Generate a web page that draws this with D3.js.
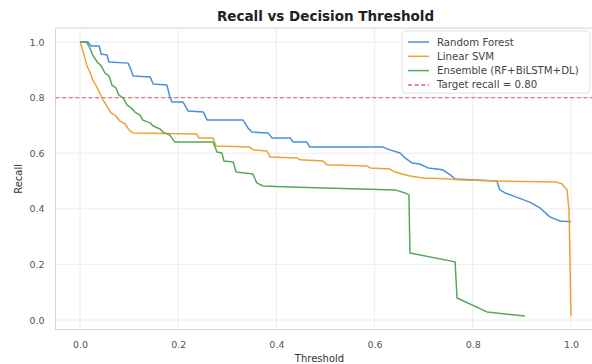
<!DOCTYPE html>
<html>
<head>
<meta charset="utf-8">
<script src="https://cdn.jsdelivr.net/npm/d3@7"></script>
<style>
  body { margin: 0; background: #fff; }
  svg { display: block; font-family: "DejaVu Sans", sans-serif; }
</style>
</head>
<body>
<svg id="chart" width="592" height="364"></svg>
<script>
// Recall as a function of the decision threshold, one curve per model
const thresholdsRF = [0.000, 0.016, 0.022, 0.039, 0.043, 0.055, 0.059, 0.098, 0.104, 0.108, 0.143, 0.149, 0.177, 0.183, 0.187, 0.210, 0.220, 0.251, 0.259, 0.332, 0.342, 0.350, 0.383, 0.391, 0.428, 0.434, 0.462, 0.468, 0.617, 0.631, 0.652, 0.662, 0.676, 0.692, 0.709, 0.739, 0.754, 0.764, 0.849, 0.855, 0.866, 0.916, 0.937, 0.957, 0.978, 1.000];
const recallRF     = [1.000, 1.000, 0.986, 0.986, 0.957, 0.953, 0.928, 0.924, 0.899, 0.878, 0.874, 0.849, 0.845, 0.802, 0.784, 0.784, 0.752, 0.748, 0.719, 0.719, 0.691, 0.676, 0.673, 0.655, 0.655, 0.640, 0.640, 0.622, 0.622, 0.612, 0.601, 0.583, 0.565, 0.561, 0.547, 0.540, 0.522, 0.507, 0.500, 0.468, 0.457, 0.424, 0.403, 0.371, 0.356, 0.353];

const thresholdsSVM = [0.000, 0.004, 0.010, 0.014, 0.020, 0.026, 0.033, 0.041, 0.047, 0.057, 0.063, 0.073, 0.081, 0.092, 0.100, 0.108, 0.238, 0.242, 0.271, 0.277, 0.346, 0.352, 0.381, 0.387, 0.442, 0.448, 0.495, 0.503, 0.585, 0.591, 0.631, 0.642, 0.656, 0.672, 0.699, 0.754, 0.768, 0.849, 0.971, 0.982, 0.992, 0.996, 0.998, 1.000];
const recallSVM     = [1.000, 0.978, 0.942, 0.914, 0.892, 0.863, 0.842, 0.813, 0.791, 0.763, 0.745, 0.734, 0.716, 0.705, 0.683, 0.673, 0.669, 0.655, 0.655, 0.626, 0.622, 0.612, 0.608, 0.586, 0.583, 0.576, 0.572, 0.558, 0.554, 0.547, 0.543, 0.532, 0.525, 0.518, 0.511, 0.507, 0.504, 0.500, 0.496, 0.489, 0.468, 0.396, 0.216, 0.014];

const thresholdsEns = [0.000, 0.012, 0.018, 0.026, 0.035, 0.043, 0.051, 0.059, 0.065, 0.073, 0.079, 0.088, 0.096, 0.104, 0.112, 0.122, 0.128, 0.143, 0.149, 0.163, 0.169, 0.183, 0.193, 0.271, 0.279, 0.289, 0.293, 0.312, 0.318, 0.352, 0.360, 0.373, 0.428, 0.642, 0.662, 0.670, 0.672, 0.764, 0.768, 0.829, 0.906];
const recallEns     = [1.000, 1.000, 0.986, 0.953, 0.928, 0.914, 0.888, 0.878, 0.845, 0.835, 0.809, 0.799, 0.773, 0.763, 0.748, 0.737, 0.719, 0.709, 0.698, 0.687, 0.676, 0.665, 0.640, 0.640, 0.604, 0.601, 0.572, 0.568, 0.532, 0.525, 0.493, 0.482, 0.478, 0.468, 0.457, 0.450, 0.241, 0.209, 0.079, 0.029, 0.014];

const targetRecall = 0.80;

const seriesNames = ["Random Forest", "Linear SVM", "Ensemble (RF+BiLSTM+DL)"];
const seriesColors = ["#4a8fd8", "#e9a533", "#55a85a"];
const targetColor = "#e26464";
const xTicks = [0.0, 0.2, 0.4, 0.6, 0.8, 1.0];
const yTicks = [0.0, 0.2, 0.4, 0.6, 0.8, 1.0];

const series = [
  { name: seriesNames[0], color: seriesColors[0], pts: d3.zip(thresholdsRF, recallRF) },
  { name: seriesNames[1], color: seriesColors[1], pts: d3.zip(thresholdsSVM, recallSVM) },
  { name: seriesNames[2], color: seriesColors[2], pts: d3.zip(thresholdsEns, recallEns) }
];

const svg = d3.select("#chart");
const plot = { left: 55.5, right: 595.5, top: 28.1, bottom: 329.7 };

const x = d3.scaleLinear().domain([-0.05, 1.05]).range([plot.left, plot.right]);
const y = d3.scaleLinear().domain([-0.035, 1.05]).range([plot.bottom, plot.top]);

svg.append("defs").append("clipPath").attr("id", "plot-clip")
  .append("rect")
  .attr("x", plot.left).attr("y", plot.top)
  .attr("width", plot.right - plot.left).attr("height", plot.bottom - plot.top);

// grid
const grid = svg.append("g").attr("stroke", "#ebebeb").attr("stroke-width", 0.9);
grid.selectAll("line.vx").data(xTicks).join("line")
  .attr("x1", d => x(d)).attr("x2", d => x(d))
  .attr("y1", plot.top).attr("y2", plot.bottom);
grid.selectAll("line.hy").data(yTicks).join("line")
  .attr("x1", plot.left).attr("x2", plot.right)
  .attr("y1", d => y(d)).attr("y2", d => y(d));

// frame
svg.append("rect")
  .attr("x", plot.left).attr("y", plot.top)
  .attr("width", plot.right - plot.left).attr("height", plot.bottom - plot.top)
  .attr("fill", "none").attr("stroke", "#d4d4d4").attr("stroke-width", 1);

// axes
const fmt = d3.format(".1f");
const xAxis = svg.append("g")
  .attr("transform", `translate(0,${plot.bottom})`)
  .call(d3.axisBottom(x).tickValues(xTicks).tickFormat(fmt).tickSize(0).tickPadding(12));
const yAxis = svg.append("g")
  .attr("transform", `translate(${plot.left},0)`)
  .call(d3.axisLeft(y).tickValues(yTicks).tickFormat(fmt).tickSize(0).tickPadding(11));
[xAxis, yAxis].forEach(g => {
  g.select(".domain").remove();
  g.selectAll("text").attr("fill", "#555").style("font-size", "9.5px")
    .style("font-family", "'DejaVu Sans', sans-serif");
});

// target recall line
const lines = svg.append("g").attr("clip-path", "url(#plot-clip)");
lines.append("line")
  .attr("x1", plot.left).attr("x2", plot.right)
  .attr("y1", y(targetRecall)).attr("y2", y(targetRecall))
  .attr("stroke", targetColor).attr("stroke-width", 1.2)
  .attr("stroke-dasharray", "4,2.6").attr("opacity", 0.85);

// curves
const line = d3.line().x(d => x(d[0])).y(d => y(d[1]));
lines.selectAll("path.curve").data(series).join("path")
  .attr("class", "curve")
  .attr("d", d => line(d.pts))
  .attr("fill", "none")
  .attr("stroke", d => d.color)
  .attr("stroke-width", 1.5)
  .attr("stroke-linejoin", "round");

// title and axis labels
svg.append("text")
  .attr("x", (plot.left + plot.right) / 2).attr("y", 21)
  .attr("text-anchor", "middle")
  .style("font-size", "13.5px").style("font-weight", "bold").attr("fill", "#222")
  .text("Recall vs Decision Threshold");
svg.append("text")
  .attr("x", (plot.left + plot.right) / 2 - 6).attr("y", 362)
  .attr("text-anchor", "middle")
  .style("font-size", "10px").attr("fill", "#333")
  .text("Threshold");
svg.append("text")
  .attr("transform", `translate(22,${(plot.top + plot.bottom) / 2}) rotate(-90)`)
  .attr("text-anchor", "middle")
  .style("font-size", "10px").attr("fill", "#333")
  .text("Recall");

// legend
const legendItems = series.map(s => ({ label: s.name, color: s.color, dash: null }))
  .concat([{ label: "Target recall = " + targetRecall.toFixed(2), color: targetColor, dash: "4,2.6" }]);
const legend = svg.append("g").attr("transform", "translate(402,31)");
legend.append("rect")
  .attr("width", 188).attr("height", 62).attr("rx", 3)
  .attr("fill", "#fff").attr("fill-opacity", 0.85)
  .attr("stroke", "#dcdcdc").attr("stroke-width", 0.8);
const rows = legend.selectAll("g.row").data(legendItems).join("g")
  .attr("class", "row")
  .attr("transform", (d, i) => `translate(0,${11 + i * 14.3})`);
rows.append("line")
  .attr("x1", 6).attr("x2", 27)
  .attr("stroke", d => d.color).attr("stroke-width", 1.5)
  .attr("stroke-dasharray", d => d.dash);
rows.append("text")
  .attr("x", 35).attr("dy", "0.35em")
  .style("font-size", "10.2px").attr("fill", "#444")
  .text(d => d.label);
</script>
</body>
</html>
